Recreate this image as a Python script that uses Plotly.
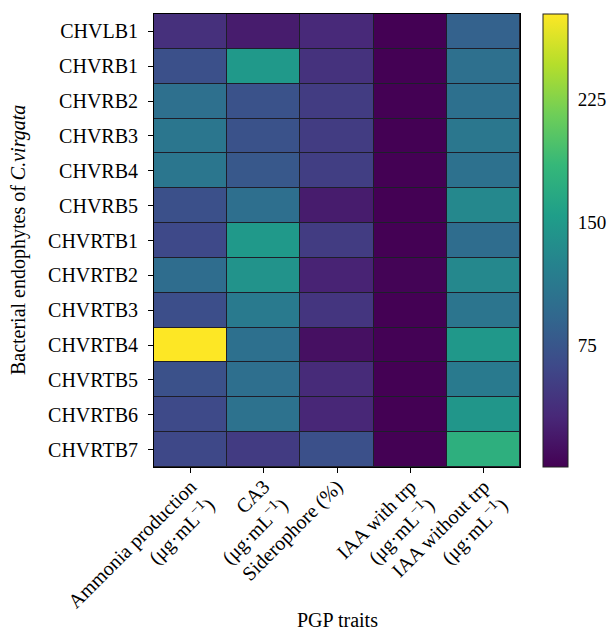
import plotly.graph_objects as go

strains = ["CHVLB1", "CHVRB1", "CHVRB2", "CHVRB3", "CHVRB4", "CHVRB5", "CHVRTB1",
           "CHVRTB2", "CHVRTB3", "CHVRTB4", "CHVRTB5", "CHVRTB6", "CHVRTB7"]
traits = ["Ammonia production<br>(μg·mL<sup>−1</sup>)",
          "CA3<br>(μg·mL<sup>−1</sup>)",
          "Siderophore (%)",
          "IAA with trp<br>(μg·mL<sup>−1</sup>)",
          "IAA without trp<br>(μg·mL<sup>−1</sup>)"]

ammonia = [39, 69, 102, 109, 109, 69, 62, 99, 67, 277, 70, 63, 61]
ca3 = [22, 149, 71, 71, 77, 101, 149, 142, 114, 103, 101, 105, 49]
siderophore = [33, 41, 50, 50, 52, 22, 50, 28, 44, 13, 34, 31, 69]
iaa_with_trp = [1, 1, 1, 1, 1, 1, 1, 3, 1, 2, 1, 1, 1]
iaa_without_trp = [87, 102, 103, 111, 104, 130, 99, 130, 108, 148, 114, 146, 175]

cbar_ticks = [75, 150, 225]
zmin, zmax = 1, 277

z = [list(r) for r in zip(ammonia, ca3, siderophore, iaa_with_trp, iaa_without_trp)]

font = "Liberation Serif, Times New Roman, serif"
fs = 20

W, H = 614, 630
ML, MR, MT, MB = 154, 94, 14, 163
plot_w = W - ML - MR
cb_x = 1.063
cb_thick = 25

fig = go.Figure(go.Heatmap(
    z=z, x=traits, y=strains, colorscale="Viridis",
    zmin=zmin, zmax=zmax, xgap=1, ygap=1,
    colorbar=dict(
        thickness=cb_thick, len=1.0, lenmode="fraction", y=0.5, yanchor="middle",
        x=cb_x, xanchor="left", xpad=0, ypad=0,
        tickvals=cbar_ticks, ticks="outside", ticklen=6, tickcolor="rgba(0,0,0,0)",
        outlinecolor="#222", outlinewidth=1,
        tickfont=dict(family=font, size=19, color="black"),
    ),
))

# small inside tick marks on the colour bar edges
cb_left = cb_x
cb_right = cb_x + cb_thick / plot_w
tk = 3 / plot_w
for v in cbar_ticks:
    yy = (v - zmin) / (zmax - zmin)
    for x0, x1 in [(cb_right - tk, cb_right), (cb_left, cb_left + tk)]:
        fig.add_shape(type="line", xref="paper", yref="paper", x0=x0, x1=x1, y0=yy, y1=yy,
                      line=dict(color="#222", width=1))

fig.update_layout(
    width=W, height=H,
    margin=dict(l=ML, r=MR, t=MT, b=MB, autoexpand=False),
    paper_bgcolor="white", plot_bgcolor="#1e1e2a",
    font=dict(family=font, size=fs, color="black"),
    showlegend=False,
    annotations=[
        dict(text="PGP traits", xref="paper", yref="paper", x=0.5, y=-0.338,
             xanchor="center", yanchor="middle", showarrow=False,
             font=dict(family=font, size=fs)),
        dict(text="Bacterial endophytes of <i>C.virgata</i>", xref="paper", yref="paper",
             x=-0.37, y=0.5, xanchor="center", yanchor="middle", textangle=-90,
             showarrow=False, font=dict(family=font, size=fs)),
    ],
)
fig.update_xaxes(
    tickangle=-45, ticks="outside", ticklen=5, tickcolor="black",
    showline=True, linecolor="black", linewidth=1, mirror=True,
    showgrid=False, zeroline=False, automargin=False,
    ticklabelstandoff=-6,
    tickfont=dict(family=font, size=fs),
)
fig.update_yaxes(
    autorange="reversed", ticks="outside", ticklen=5, tickcolor="black",
    showline=True, linecolor="black", linewidth=1, mirror=True,
    showgrid=False, zeroline=False, automargin=False,
    ticklabelstandoff=6,
    tickfont=dict(family=font, size=fs),
)

fig.write_html(
    "out.html",
    config={"displayModeBar": False},
    post_script="document.body.style.margin='0';document.body.style.overflow='hidden';",
)
